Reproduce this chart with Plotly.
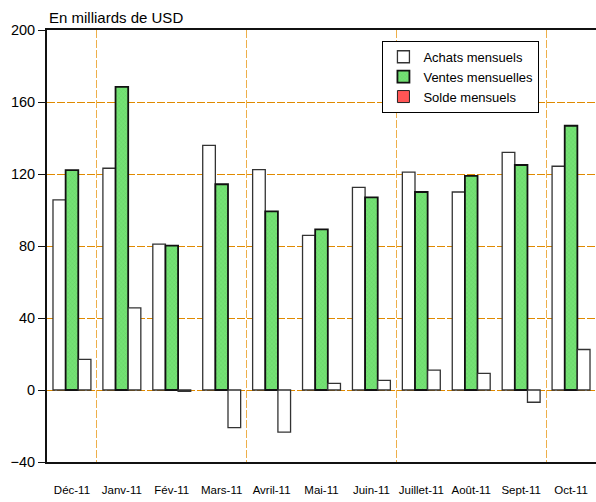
import plotly.graph_objects as go

categories = ["Déc-11", "Janv-11", "Fév-11", "Mars-11", "Avril-11", "Mai-11",
              "Juin-11", "Juillet-11", "Août-11", "Sept-11", "Oct-11"]
achats = [105.6, 123.2, 81.0, 135.9, 122.4, 85.9, 112.6, 121.0, 110.0, 132.0, 124.3]
ventes = [122.2, 168.4, 80.2, 114.3, 99.2, 89.2, 107.0, 110.0, 119.0, 125.0, 146.8]
solde = [17.0, 45.6, -0.8, -20.9, -23.4, 3.7, 5.4, 11.0, 9.2, -6.8, 22.5]
y_ticks = [-40, 0, 40, 80, 120, 160, 200]
separators = [0.5, 3.5, 6.5, 9.5]

xpos = list(range(len(categories)))
FONT = "Liberation Sans, Arial, sans-serif"

fig = go.Figure()
fig.add_trace(go.Bar(x=xpos, y=achats, name="Achats mensuels",
                     marker=dict(color="white", line=dict(color="#333333", width=1.3))))
fig.add_trace(go.Bar(x=xpos, y=ventes, name="Ventes mensuelles",
                     marker=dict(color="#6FDF6F", line=dict(color="#111111", width=1.8),
                                 pattern=dict(shape="x", size=3, solidity=0.25,
                                              fgcolor="#58C058", bgcolor="#74E274"))))
fig.add_trace(go.Bar(x=xpos, y=solde, name="Solde mensuels", showlegend=False,
                     marker=dict(color="white", line=dict(color="#333333", width=1.3))))
# legend entry for the balance series (shown red in the legend only)
fig.add_trace(go.Bar(x=[None], y=[None], name="Solde mensuels", xaxis="x2",
                     marker=dict(color="#FF5555", line=dict(color="#222222", width=1))))

fig.update_layout(
    width=596, height=502,
    margin=dict(l=47, r=0, t=30, b=40),
    paper_bgcolor="white", plot_bgcolor="white",
    barmode="group", bargap=0.24, bargroupgap=0,
    font=dict(family=FONT, color="#000000"),
    showlegend=True,
    legend=dict(x=0.611, y=0.975, xanchor="left", yanchor="top",
                bgcolor="white", bordercolor="#000000", borderwidth=1,
                font=dict(size=13, family=FONT), traceorder="normal",
                tracegroupgap=0, itemwidth=30),
    xaxis=dict(range=[-0.5, 10.5], tickmode="array", tickvals=xpos, ticktext=categories,
               showgrid=False, zeroline=False, showline=True, linecolor="#111111",
               linewidth=2, ticks="outside", ticklen=16, tickcolor="rgba(0,0,0,0)",
               tickfont=dict(size=11.5, family=FONT), tickangle=0, fixedrange=True),
    xaxis2=dict(range=[-0.5, 10.5], overlaying="x", side="top", anchor="y",
                tickmode="array", tickvals=separators, showticklabels=False,
                showgrid=True, gridcolor="#EDAF4A", gridwidth=1, griddash="8px,2px",
                zeroline=False, showline=True, linecolor="#111111", linewidth=2,
                ticks="", fixedrange=True),
    yaxis=dict(range=[-40, 200], tickmode="array", tickvals=y_ticks,
               showgrid=True, gridcolor="#E08A00", gridwidth=1, griddash="8px,2px",
               zeroline=False, showline=True, linecolor="#111111", linewidth=2,
               ticks="outside", ticklen=7, tickcolor="#111111", tickwidth=1,
               tickfont=dict(size=14.5, family=FONT), fixedrange=True),
    annotations=[dict(text="En milliards de USD", xref="paper", yref="paper",
                      x=0, y=1, xanchor="left", yanchor="bottom", yshift=2,
                      showarrow=False, font=dict(size=15, family=FONT, color="#000000"))],
)

fig.write_html("out.html", config={"displayModeBar": False},
               post_script="document.body.style.margin='0px';")
